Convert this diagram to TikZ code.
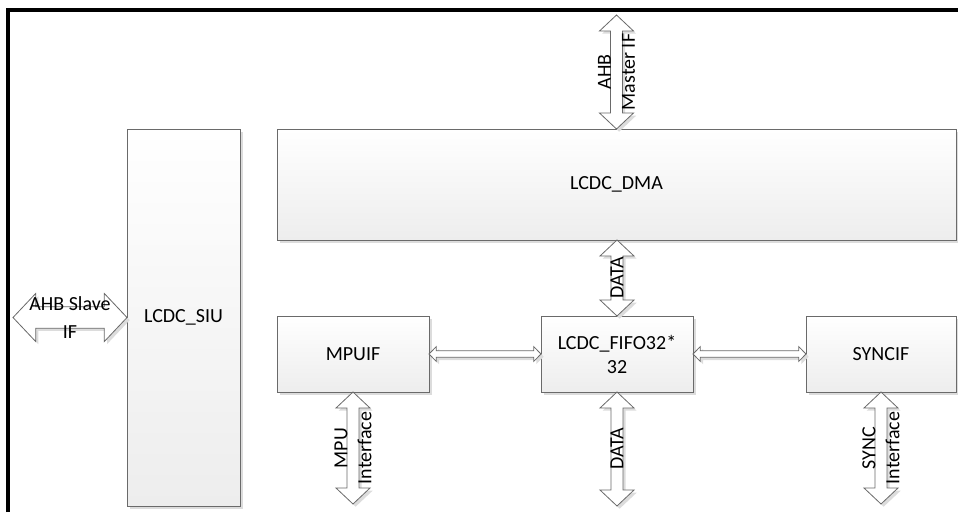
\documentclass[tikz,border=0pt]{standalone}
\usepackage{fontspec}
\setmainfont{Carlito}
\usetikzlibrary{calc,shadows}
\definecolor{boxline}{HTML}{6A6A6A}
\definecolor{boxlow}{HTML}{EDEDED}
\definecolor{boxshade}{HTML}{DCDCDC}

\begin{document}
\begin{tikzpicture}[
  x=0.75pt,
  y=-0.75pt,
  every node/.style={font=\fontsize{15}{18}\selectfont},
  block/.style={draw=boxline, line width=0.75pt, top color=white, bottom color=boxlow,
    inner sep=0pt, outer sep=0pt, align=center,
    drop shadow={shadow xshift=2.5pt, shadow yshift=-2.5pt, fill=boxshade, opacity=1}},
  fatarrow/.style n args={3}{draw=boxline, fill=white, line width=0.6pt,
    drop shadow={shadow xshift=2pt, shadow yshift=-2pt, fill=boxshade, opacity=1},
    to path={
      ($(\tikztostart)!#3!(\tikztotarget)$) coordinate (fa1)
      ($(\tikztotarget)!#3!(\tikztostart)$) coordinate (fa2)
      (\tikztostart) -- ($(fa1)!#1!90:(\tikztotarget)$) -- ($(fa1)!#2!90:(\tikztotarget)$)
      -- ($(fa2)!#2!-90:(\tikztostart)$) -- ($(fa2)!#1!-90:(\tikztostart)$) -- (\tikztotarget)
      -- ($(fa2)!#1!90:(\tikztostart)$) -- ($(fa2)!#2!90:(\tikztostart)$)
      -- ($(fa1)!#2!-90:(\tikztotarget)$) -- ($(fa1)!#1!-90:(\tikztotarget)$) -- cycle}},
  fatv/.style={fatarrow={12.75pt}{4.5pt}{12pt}},
  fath/.style={fatarrow={5.6pt}{2.5pt}{5.5pt}},
  fatslave/.style={fatarrow={18pt}{8pt}{17pt}}
]
  \useasboundingbox (0,0) rectangle (958,512);

  % outer frame
  \draw[line width=3pt] (8,512) -- (8,10) -- (958,10);

  % blocks
  \node[block, minimum width=84.75pt, minimum height=282.75pt] (siu) at (183.5,317.5) {LCDC\_SIU};
  \node[block, minimum width=509.25pt, minimum height=83.25pt] (dma) at (616.5,184.5) {LCDC\_DMA};
  \node[block, minimum width=114pt, minimum height=57pt] (fifo) at (617,354) {LCDC\_FIFO32*\\32};
  \node[block, minimum width=114pt, minimum height=57pt] (mpuif) at (353,354) {MPUIF};
  \node[block, minimum width=112.5pt, minimum height=57pt] (syncif) at (881,354) {SYNCIF};

  % free ends
  \coordinate (ahbm) at (616.5,15);
  \coordinate (slave) at (13,317.5);
  \coordinate (dmaout) at (dma.south -| fifo.north);
  \coordinate (fifoout) at (617,506);
  \coordinate (mpuout) at (353,504);
  \coordinate (syncout) at (881,504);

  % bus arrows
  \draw[fatv] (ahbm) to (dma.north);
  \draw[fatv] (dmaout) to (fifo.north);
  \draw[fatv] (fifo.south) to (fifoout);
  \draw[fatv] (mpuif.south) to (mpuout);
  \draw[fatv] (syncif.south) to (syncout);
  \draw[fath] (mpuif.east) to (fifo.west);
  \draw[fath] (fifo.east) to (syncif.west);
  \draw[fatslave] (slave) to (siu.west);

  % bus labels
  \node[rotate=90, align=center] (ahbmlbl) at ($(ahbm)!.5!(dma.north)$) {AHB\\Master IF};
  \node[rotate=90] (datalbl) at ($(dmaout)!.5!(fifo.north)$) {DATA};
  \node[rotate=90] (fifolbl) at ($(fifo.south)!.5!(fifoout)$) {DATA};
  \node[rotate=90, align=center] (mpulbl) at ($(mpuif.south)!.5!(mpuout)$) {MPU\\Interface};
  \node[rotate=90, align=center] (synclbl) at ($(syncif.south)!.5!(syncout)$) {SYNC\\Interface};
  \node[align=center] (slavelbl) at ($(slave)!.5!(siu.west)$) {AHB Slave\\[3pt]IF};
\end{tikzpicture}
\end{document}
